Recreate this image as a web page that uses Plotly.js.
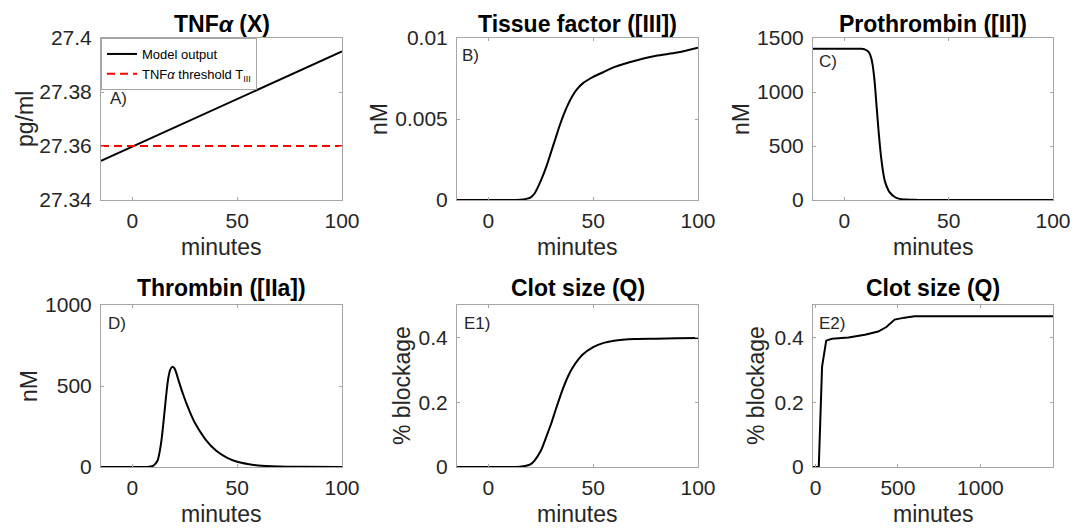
<!DOCTYPE html>
<html>
<head>
<meta charset="utf-8">
<script src="https://cdn.plot.ly/plotly-3.0.1.min.js"></script>
<style>
html,body{margin:0;padding:0;background:#fff;}
#chart{width:1085px;height:532px;}
</style>
</head>
<body>
<div id="chart"></div>
<script>
// ---------- data ----------
const tnfTime = [-15, 0, 25, 50, 75, 100];
const tnfModel = [27.3545, 27.3598, 27.3686, 27.3774, 27.3862, 27.3950];
const tnfThresholdTime = [-15, 100];
const tnfThreshold = [27.36, 27.36];

const tfTime = [-15, 0, 10, 15, 18, 20, 22, 24, 26, 28, 30, 32, 34, 36, 38, 40, 42, 45, 50, 55, 60, 70, 80, 90, 100];
const tissueFactor = [0, 0, 0, 0.00002, 0.00007, 0.00015, 0.0004, 0.0009, 0.0015, 0.0022, 0.0030, 0.0038, 0.0046, 0.0053, 0.0059, 0.0064, 0.0068, 0.0072, 0.0076, 0.0079, 0.0082, 0.0086, 0.0089, 0.0091, 0.0094];

const ptTime = [-15, 0, 8, 10, 11.5, 12.5, 13.5, 14.5, 15.5, 16.5, 17.5, 18.5, 19.5, 21, 22, 24, 26, 30, 35, 40, 50, 100];
const prothrombin = [1400, 1400, 1400, 1393, 1375, 1340, 1260, 1100, 860, 620, 420, 270, 170, 95, 65, 30, 13, 4, 1, 0, 0, 0];

const thTime = [-15, 0, 5, 8, 10, 12, 13, 14, 15, 16, 17, 18, 19, 20, 21, 22, 24, 26, 28, 30, 35, 40, 45, 50, 55, 60, 70, 80, 100];
const thrombin = [0, 0, 0, 2, 8, 40, 95, 180, 300, 430, 540, 600, 618, 610, 578, 535, 455, 385, 322, 268, 168, 100, 58, 32, 18, 9, 3, 1, 0];

const clotTime = [-15, 0, 10, 15, 18, 20, 22, 25, 28, 30, 32, 35, 38, 40, 45, 50, 55, 60, 70, 80, 90, 100];
const clotSize = [0, 0, 0, 0.001, 0.004, 0.008, 0.02, 0.05, 0.1, 0.135, 0.175, 0.232, 0.28, 0.305, 0.347, 0.370, 0.383, 0.390, 0.395, 0.396, 0.397, 0.398];

const clotLongTime = [-15, 15, 20, 40, 65, 100, 200, 300, 380, 430, 480, 540, 600, 1440];
const clotLong = [0, 0, 0, 0.31, 0.39, 0.396, 0.400, 0.408, 0.418, 0.432, 0.455, 0.461, 0.465, 0.465];

const titles = ['TNF<i>α</i> (X)', 'Tissue factor ([III])', 'Prothrombin ([II])', 'Thrombin ([IIa])', 'Clot size (Q)', 'Clot size (Q)'];
const yLabels = ['pg/ml', 'nM', 'nM', 'nM', '% blockage', '% blockage'];
const panelTags = ['A)', 'B)', 'C)', 'D)', 'E1)', 'E2)'];
const xLabel = 'minutes';
const legendNames = ['Model output', 'TNF<i>α</i> threshold T<sub>III</sub>'];

const xTicks = [0, 50, 100];
const xTicksLong = [0, 500, 1000];
const yTicksA = [27.34, 27.36, 27.38, 27.4];
const yTickTextA = ['27.34', '27.36', '27.38', '27.4'];
const yTicksB = [0, 0.005, 0.01];
const yTickTextB = ['0', '0.005', '0.01'];
const yTicksC = [0, 500, 1000, 1500];
const yTicksD = [0, 500, 1000];
const yTicksE = [0, 0.2, 0.4];
const yTickTextE = ['0', '0.2', '0.4'];

// ---------- layout geometry (pixels -> paper) ----------
const W = 1085, H = 532;
const px = x => x / W, py = y => 1 - y / H;
const cols = [[101, 342], [457, 698], [813, 1053]];
const rows = [[38, 200], [305, 467]];

const FONT = '"Liberation Sans", Arial, Helvetica, sans-serif';
const TXT = '#262626';
const AX = '#a6a6a6';

function xaxis(col, row, range, ticks, anchor) {
  return {
    domain: [px(cols[col][0]), px(cols[col][1])],
    anchor: anchor, range: range,
    tickmode: 'array', tickvals: ticks, ticktext: ticks.map(String),
    showgrid: false, zeroline: false, showline: true, mirror: 'ticks',
    linecolor: AX, linewidth: 1, ticks: 'inside', ticklen: 3, tickcolor: AX,
    tickfont: {family: FONT, size: 21, color: TXT}, ticklabelstandoff: 2, fixedrange: true
  };
}
function yaxis(col, row, range, ticks, text, anchor) {
  return {
    domain: [py(rows[row][1]), py(rows[row][0])],
    anchor: anchor, range: range,
    tickmode: 'array', tickvals: ticks, ticktext: text || ticks.map(String),
    showgrid: false, zeroline: false, showline: true, mirror: 'ticks',
    linecolor: AX, linewidth: 1, ticks: 'inside', ticklen: 3, tickcolor: AX,
    tickfont: {family: FONT, size: 21, color: TXT}, ticklabelstandoff: 4, fixedrange: true
  };
}

const blackLine = {color: '#000000', width: 2, shape: 'spline', smoothing: 0.7};

const traces = [
  {x: tnfTime, y: tnfModel, xaxis: 'x', yaxis: 'y', mode: 'lines', name: legendNames[0], line: {color: '#000', width: 2}, showlegend: true},
  {x: tnfThresholdTime, y: tnfThreshold, xaxis: 'x', yaxis: 'y', mode: 'lines', name: legendNames[1], line: {color: '#ff0000', width: 2, dash: '8px,5px'}, showlegend: true},
  {x: tfTime, y: tissueFactor, xaxis: 'x2', yaxis: 'y2', mode: 'lines', line: blackLine, showlegend: false},
  {x: ptTime, y: prothrombin, xaxis: 'x3', yaxis: 'y3', mode: 'lines', line: blackLine, showlegend: false},
  {x: thTime, y: thrombin, xaxis: 'x4', yaxis: 'y4', mode: 'lines', line: blackLine, showlegend: false},
  {x: clotTime, y: clotSize, xaxis: 'x5', yaxis: 'y5', mode: 'lines', line: blackLine, showlegend: false},
  {x: clotLongTime, y: clotLong, xaxis: 'x6', yaxis: 'y6', mode: 'lines', line: {color: '#000', width: 2}, showlegend: false}
];

const annotations = [];
const panelPos = [[0,0],[1,0],[2,0],[0,1],[1,1],[2,1]];
const yLabelX = [25, 379, 741, 29, 402, 756];
const tagPos = [[108, 98], [460, 55], [817, 62], [106, 323], [462, 323], [817, 323]];
panelPos.forEach((p, i) => {
  const [c, r] = p;
  const cx = (cols[c][0] + cols[c][1]) / 2;
  const cy = (rows[r][0] + rows[r][1]) / 2;
  annotations.push({text: '<b>' + titles[i] + '</b>', xref: 'paper', yref: 'paper', x: px(cx), y: py(rows[r][0] - (r === 0 ? 14 : 17)), xanchor: 'center', yanchor: 'middle', showarrow: false, font: {family: FONT, size: 23, color: '#000'}});
  annotations.push({text: xLabel, xref: 'paper', yref: 'paper', x: px(cx), y: py(rows[r][1] + 47), xanchor: 'center', yanchor: 'middle', showarrow: false, font: {family: FONT, size: 23, color: TXT}});
  annotations.push({text: yLabels[i], xref: 'paper', yref: 'paper', x: px(yLabelX[i]), y: py(cy), xanchor: 'center', yanchor: 'middle', textangle: -90, showarrow: false, font: {family: FONT, size: 23, color: TXT}});
  annotations.push({text: panelTags[i], xref: 'paper', yref: 'paper', x: px(tagPos[i][0]), y: py(tagPos[i][1]), xanchor: 'left', yanchor: 'middle', showarrow: false, font: {family: FONT, size: 17, color: TXT}});
});

const layout = {
  width: W, height: H,
  margin: {l: 0, r: 0, t: 0, b: 0},
  paper_bgcolor: '#fff', plot_bgcolor: '#fff',
  font: {family: FONT, color: TXT},
  showlegend: true,
  legend: {x: px(101), y: py(38), xanchor: 'left', yanchor: 'top', bgcolor: '#fff', bordercolor: AX, borderwidth: 1, font: {family: FONT, size: 13, color: '#000'}, itemwidth: 30, tracegroupgap: 0},
  xaxis: xaxis(0, 0, [-15, 100], xTicks, 'y'),
  yaxis: yaxis(0, 0, [27.34, 27.4], yTicksA, yTickTextA, 'x'),
  xaxis2: xaxis(1, 0, [-15, 100], xTicks, 'y2'),
  yaxis2: yaxis(1, 0, [0, 0.01], yTicksB, yTickTextB, 'x2'),
  xaxis3: xaxis(2, 0, [-15, 100], xTicks, 'y3'),
  yaxis3: yaxis(2, 0, [0, 1500], yTicksC, null, 'x3'),
  xaxis4: xaxis(0, 1, [-15, 100], xTicks, 'y4'),
  yaxis4: yaxis(0, 1, [0, 1000], yTicksD, null, 'x4'),
  xaxis5: xaxis(1, 1, [-15, 100], xTicks, 'y5'),
  yaxis5: yaxis(1, 1, [0, 0.5], yTicksE, yTickTextE, 'x5'),
  xaxis6: xaxis(2, 1, [-15, 1440], xTicksLong, 'y6'),
  yaxis6: yaxis(2, 1, [0, 0.5], yTicksE, yTickTextE, 'x6'),
  annotations: annotations
};

Plotly.newPlot('chart', traces, layout, {displayModeBar: false, staticPlot: true});
</script>
</body>
</html>
